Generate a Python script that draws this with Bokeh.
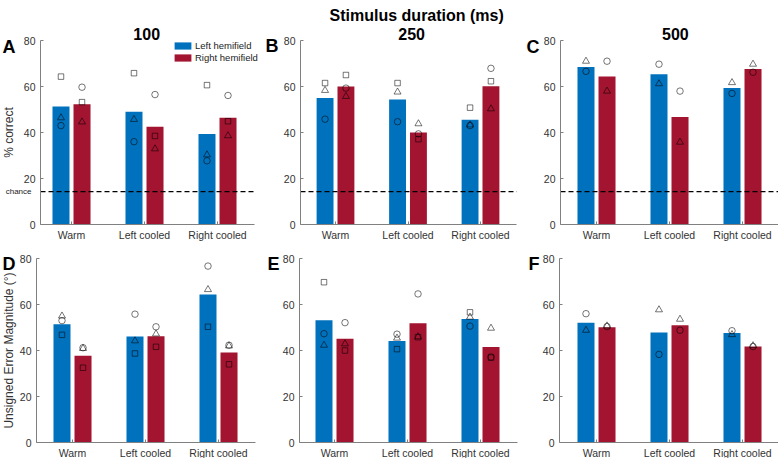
from bokeh.plotting import figure
from bokeh.layouts import column, row
from bokeh.models import Range1d, FixedTicker, Label, Legend, LegendItem, ColumnDataSource
from bokeh.embed import file_html
from bokeh.resources import INLINE

# ---------------- data ----------------
conditions = ["Warm", "Left cooled", "Right cooled"]
durations = ["100", "250", "500"]
chance_level = 14.3

# % correct, 100 ms (A)
a_left_bar = [51.3, 49.0, 39.3]
a_right_bar = [52.3, 42.5, 46.4]
a_left_sq = [64.3, 65.8, 60.6]
a_left_ci = [43.0, 36.0, 27.7]
a_left_tr = [46.4, 45.7, 30.3]
a_right_sq = [53.2, 38.5, 44.9]
a_right_ci = [59.7, 56.5, 56.1]
a_right_tr = [44.6, 32.9, 38.6]

# % correct, 250 ms (B)
b_left_bar = [55.0, 54.4, 45.5]
b_right_bar = [60.0, 40.0, 60.1]
b_left_sq = [61.5, 61.5, 50.8]
b_left_ci = [45.8, 44.7, 43.0]
b_left_tr = [58.3, 57.6, 43.3]
b_right_sq = [65.0, 37.1, 62.3]
b_right_ci = [59.3, 39.4, 67.9]
b_right_tr = [55.7, 43.8, 50.3]

# % correct, 500 ms (C)
c_left_bar = [68.5, 65.3, 59.3]
c_right_bar = [64.3, 46.7, 67.6]
c_left_ci = [66.6, 69.7, 57.0]
c_left_tr = [71.0, 61.2, 61.7]
c_right_ci = [71.0, 58.0, 66.2]
c_right_tr = [58.0, 35.8, 69.7]

# error magnitude, 100 ms (D)
d_left_bar = [51.4, 46.1, 64.3]
d_right_bar = [37.7, 46.2, 39.1]
d_left_sq = [46.8, 38.7, 50.3]
d_left_ci = [53.0, 55.8, 76.7]
d_left_tr = [55.0, 44.2, 66.5]
d_right_sq = [32.5, 41.6, 34.0]
d_right_ci = [41.2, 50.3, 42.3]
d_right_tr = [40.9, 47.2, 42.0]

# error magnitude, 250 ms (E)
e_left_bar = [53.1, 44.1, 53.7]
e_right_bar = [45.1, 51.8, 41.5]
e_left_sq = [69.7, 40.6, 56.6]
e_left_ci = [47.3, 47.1, 50.6]
e_left_tr = [42.3, 45.4, 54.5]
e_right_sq = [40.0, 45.8, 36.9]
e_right_ci = [52.1, 64.6, 37.2]
e_right_tr = [42.9, 46.0, 49.7]

# error magnitude, 500 ms (F)
f_left_bar = [52.1, 47.8, 47.6]
f_right_bar = [50.1, 51.0, 41.7]
f_left_ci = [56.0, 38.3, 48.6]
f_left_tr = [48.8, 57.7, 46.9]
f_right_ci = [50.4, 48.8, 41.7]
f_right_tr = [50.7, 53.6, 42.1]

# ---------------- style / layout ----------------
FONT = "Liberation Sans"
BLUE = "#0072BD"
RED = "#A2142F"
AXC = "#808080"
TXT = "#333333"
OFF = 0.144
BW = 0.233
MSIZE = {"square": 5.5, "circle": 6.5, "triangle": 7}
YMAX = 80
PX_PER_Y = 2.3   # pixels per y unit


def panel(left_bar, right_bar, left_marks, right_marks, W, H, pad_top, pad_bottom,
          cat1_px, axis_px, unit_px, x_right, letter, letter_dx, letter_dy,
          ylabel=None, ylabel_standoff=3, subtitle=None, sub_x=2.0,
          chance_line=False, chance_text=False, legend_loc=None,
          supertitle=None, super_x=2.1):
    # frame = whole canvas; axes are placed at fixed data locations inside it
    xs = 1 - cat1_px / unit_px
    xe = xs + W / unit_px
    x_axis = 1 - (cat1_px - axis_px) / unit_px
    ys = -pad_bottom / PX_PER_Y
    ye = YMAX + pad_top / PX_PER_Y
    p = figure(width=W, height=H, x_range=Range1d(xs, xe), y_range=Range1d(ys, ye),
               output_backend="svg", toolbar_location=None, title=None,
               min_border_left=0, min_border_right=0, min_border_top=0, min_border_bottom=0)
    p.outline_line_color = None
    p.grid.visible = False
    p.background_fill_color = "white"
    p.border_fill_color = "white"
    cats = [1, 2, 3]
    src_l = ColumnDataSource(dict(x=[x - OFF for x in cats], top=left_bar))
    src_r = ColumnDataSource(dict(x=[x + OFF for x in cats], top=right_bar))
    rl = p.vbar(x="x", top="top", width=BW, source=src_l, fill_color=BLUE, line_color=None)
    rr = p.vbar(x="x", top="top", width=BW, source=src_r, fill_color=RED, line_color=None)
    for marks, off in ((left_marks, -OFF), (right_marks, OFF)):
        for mk, vals in marks.items():
            p.scatter(x=[x + off for x in cats], y=vals, marker=mk, size=MSIZE[mk],
                      fill_color=None, line_color="black", line_alpha=0.6, line_width=0.9)
    if chance_line:
        p.segment(x0=[x_axis], y0=[chance_level], x1=[x_right], y1=[chance_level],
                  line_color="black", line_dash="5 3", line_width=1.3)
    # axes
    p.xaxis.fixed_location = 0
    p.xaxis.bounds = (x_axis, x_right)
    p.yaxis.fixed_location = x_axis
    p.yaxis.bounds = (0, YMAX)
    for ax in (p.xaxis[0], p.yaxis[0]):
        ax.axis_line_color = AXC
        ax.major_tick_line_color = AXC
        ax.major_tick_in = 3
        ax.major_tick_out = 0
        ax.minor_tick_line_color = None
        ax.major_label_text_font = FONT
        ax.major_label_text_font_size = "10.5px"
        ax.major_label_text_color = TXT
    p.xaxis.major_label_standoff = 4
    p.yaxis.major_label_standoff = 5
    p.xaxis.ticker = FixedTicker(ticks=cats)
    p.xaxis.major_label_overrides = {1: conditions[0], 2: conditions[1], 3: conditions[2]}
    p.yaxis.ticker = FixedTicker(ticks=[0, 20, 40, 60, 80])
    if ylabel:
        p.yaxis.axis_label = ylabel
        p.yaxis.axis_label_text_font = FONT
        p.yaxis.axis_label_text_font_size = "12px"
        p.yaxis.axis_label_text_font_style = "normal"
        p.yaxis.axis_label_text_color = TXT
        p.yaxis.axis_label_standoff = ylabel_standoff
    # panel letter
    p.add_layout(Label(x=x_axis, y=YMAX, x_offset=letter_dx, y_offset=letter_dy, text=letter,
                       text_font=FONT, text_font_size="18px", text_font_style="bold",
                       text_color="black", text_align="left", text_baseline="alphabetic"))
    if subtitle:
        p.add_layout(Label(x=sub_x, y=YMAX, y_offset=7, text=subtitle, text_font=FONT,
                           text_font_size="16px", text_font_style="bold", text_color="black",
                           text_align="center", text_baseline="alphabetic"))
    if supertitle:
        p.add_layout(Label(x=super_x, y=YMAX, y_offset=25, text=supertitle, text_font=FONT,
                           text_font_size="16px", text_font_style="bold", text_color="black",
                           text_align="center", text_baseline="alphabetic"))
    if chance_text:
        p.add_layout(Label(x=x_axis, y=chance_level, x_offset=-9, text="chance", text_font=FONT,
                           text_font_size="8px", text_color="#222222", text_align="right",
                           text_baseline="middle"))
    if legend_loc is not None:
        lg = Legend(items=[LegendItem(label="Left hemifield", renderers=[rl]),
                           LegendItem(label="Right hemifield", renderers=[rr])],
                    location=legend_loc, orientation="vertical")
        lg.border_line_color = None
        lg.background_fill_alpha = 0
        lg.padding = 0
        lg.margin = 0
        lg.spacing = 1
        lg.glyph_width = 21
        lg.glyph_height = 9
        lg.label_height = 9
        lg.label_standoff = 2
        lg.label_text_font = FONT
        lg.label_text_font_size = "9.5px"
        lg.label_text_color = "#222222"
        p.add_layout(lg, "center")
    return p


H1, H2 = 241, 217
WA, WB, WC = 258, 260, 260

pA = panel(a_left_bar, a_right_bar,
           {"square": a_left_sq, "circle": a_left_ci, "triangle": a_left_tr},
           {"square": a_right_sq, "circle": a_right_ci, "triangle": a_right_tr},
           WA, H1, 40, 17, 71, 40, 73, 3.5, "A", -38, -6,
           ylabel="% correct", ylabel_standoff=5, subtitle=durations[0], sub_x=2.03,
           chance_line=True, chance_text=True, legend_loc=(172, 178))
pB = panel(b_left_bar, b_right_bar,
           {"square": b_left_sq, "circle": b_left_ci, "triangle": b_left_tr},
           {"square": b_right_sq, "circle": b_right_ci, "triangle": b_right_tr},
           WB, H1, 40, 17, 77, 42, 72.5, 3.5, "B", -35, -5,
           subtitle=durations[1], sub_x=2.05, chance_line=True,
           supertitle="Stimulus duration (ms)", super_x=2.12)
pC = panel(c_left_bar, c_right_bar,
           {"circle": c_left_ci, "triangle": c_left_tr},
           {"circle": c_right_ci, "triangle": c_right_tr},
           WC, H1, 40, 17, 78, 42, 73, 3.49, "C", -34, -6,
           subtitle=durations[2], sub_x=2.08, chance_line=True)

pD = panel(d_left_bar, d_right_bar,
           {"square": d_left_sq, "circle": d_left_ci, "triangle": d_left_tr},
           {"square": d_right_sq, "circle": d_right_ci, "triangle": d_right_tr},
           WA, H2, 17, 16, 72, 36, 73, 3.5, "D", -34, -5,
           ylabel="Unsigned Error Magnitude (\u00b0)", ylabel_standoff=1)
pE = panel(e_left_bar, e_right_bar,
           {"square": e_left_sq, "circle": e_left_ci, "triangle": e_left_tr},
           {"square": e_right_sq, "circle": e_right_ci, "triangle": e_right_tr},
           WB, H2, 17, 16, 76, 41, 73, 3.5, "E", -32, -5)
pF = panel(f_left_bar, f_right_bar,
           {"circle": f_left_ci, "triangle": f_left_tr},
           {"circle": f_right_ci, "triangle": f_right_tr},
           WC, H2, 17, 16, 78, 41, 73, 3.49, "F", -31, -5)

layout = column(row(pA, pB, pC), row(pD, pE, pF))
open("out.html", "w").write(file_html(layout, INLINE))
